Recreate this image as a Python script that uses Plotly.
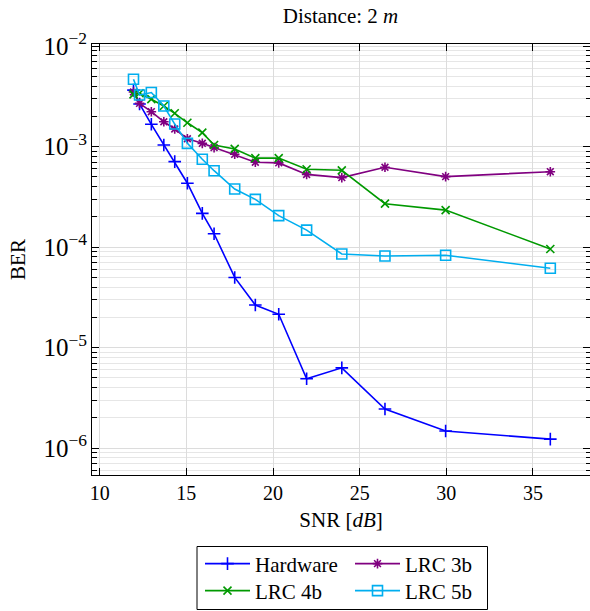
import plotly.graph_objects as go

snr = [11.95, 12.3, 12.98, 13.7, 14.33, 15.06, 15.92, 16.6, 17.79, 18.98,
       20.33, 21.94, 23.97, 26.46, 29.96, 36.0]

ber_hardware = [3.66e-3, 2.66e-3, 1.67e-3, 1.04e-3, 7.1e-4, 4.33e-4, 2.17e-4,
                1.36e-4, 5.0e-5, 2.66e-5, 2.15e-5, 4.9e-6, 6.3e-6, 2.45e-6,
                1.48e-6, 1.23e-6]
ber_lrc3b = [3.5e-3, 2.7e-3, 2.23e-3, 1.77e-3, 1.5e-3, 1.2e-3, 1.08e-3,
             9.8e-4, 8.4e-4, 7.0e-4, 6.9e-4, 5.3e-4, 4.92e-4, 6.24e-4,
             5.04e-4, 5.64e-4]
ber_lrc4b = [3.32e-3, 3.4e-3, 2.97e-3, 2.54e-3, 2.15e-3, 1.73e-3, 1.38e-3,
             1.04e-3, 9.5e-4, 7.7e-4, 7.7e-4, 5.96e-4, 5.82e-4, 2.71e-4,
             2.34e-4, 9.6e-5]
ber_lrc5b = [4.69e-3, 3.27e-3, 3.46e-3, 2.54e-3, 1.68e-3, 1.08e-3, 7.5e-4,
             5.77e-4, 3.79e-4, 2.99e-4, 2.06e-4, 1.48e-4, 8.55e-5, 8.17e-5,
             8.3e-5, 6.17e-5]

series_names = ["Hardware", "LRC 3b", "LRC 4b", "LRC 5b"]
x_ticks = [10, 15, 20, 25, 30, 35]

FONT = "Liberation Serif, Times New Roman, Times, serif"
W, H = 590, 611
L, R, T, B = 92, 0, 44, 136
PW, PH = W - L - R, H - T - B


def px_x(p):
    return (p - L) / PW


def px_y(p):
    return (H - B - p) / PH


styles = [
    dict(color="#0000ff", symbol="cross-thin-open", size=9, legend="legend"),
    dict(color="#800080", symbol="asterisk-open", size=8, legend="legend"),
    dict(color="#009900", symbol="x-thin-open", size=8, legend="legend2"),
    dict(color="#00aeef", symbol="square-open", size=10, legend="legend2"),
]

fig = go.Figure()
for name, ys, st in zip(series_names,
                        [ber_hardware, ber_lrc3b, ber_lrc4b, ber_lrc5b],
                        styles):
    fig.add_trace(go.Scatter(
        x=snr, y=ys, name=name, mode="lines+markers",
        line=dict(color=st["color"], width=1.6),
        marker=dict(symbol=st["symbol"], size=st["size"], color=st["color"],
                    line=dict(color=st["color"], width=1.6)),
        legend=st["legend"],
    ))

grid_major = "#dcdcdc"
grid_minor = "#e6e6e6"

legend_common = dict(
    orientation="h", x=px_x(200), xanchor="left",
    yanchor="middle", yref="paper",
    entrywidth=90, entrywidthmode="pixels", itemwidth=45,
    bgcolor="rgba(0,0,0,0)", borderwidth=0,
    font=dict(family=FONT, size=21),
)

fig.update_layout(
    width=W, height=H,
    margin=dict(l=L, r=R, t=T, b=B, autoexpand=False),
    paper_bgcolor="white", plot_bgcolor="white",
    font=dict(family=FONT, size=21, color="black"),
    title=dict(text="Distance: 2 <i>m</i>", x=px_x((L + 589) / 2),
               xref="paper", xanchor="center",
               y=1 - 16 / H, yref="container", yanchor="middle",
               font=dict(family=FONT, size=21)),
    xaxis=dict(
        range=[9.556, 38.29], tickvals=x_ticks,
        ticktext=[str(v) for v in x_ticks],
        showgrid=True, gridcolor=grid_major, gridwidth=1,
        zeroline=False,
        showline=True, linecolor="black", linewidth=1, mirror="allticks",
        ticks="inside", ticklen=7, tickcolor="black", tickwidth=1,
        tickfont=dict(family=FONT, size=20),
        title=dict(text="SNR [<i>dB</i>]", standoff=9,
                   font=dict(family=FONT, size=21)),
    ),
    yaxis=dict(
        type="log", range=[-6.267, -1.978], dtick=1,
        exponentformat="power",
        showgrid=True, gridcolor=grid_major, gridwidth=1,
        zeroline=False,
        showline=True, linecolor="black", linewidth=1, mirror="allticks",
        ticks="inside", ticklen=7, tickcolor="black", tickwidth=1,
        tickfont=dict(family=FONT, size=20),
        minor=dict(dtick="D1", ticks="inside", ticklen=4.5,
                   tickcolor="black", tickwidth=1,
                   showgrid=True, gridcolor=grid_minor, gridwidth=1),
        title=dict(text="BER", standoff=12,
                   font=dict(family=FONT, size=21)),
    ),
    legend=dict(legend_common, y=px_y(564)),
    legend2=dict(legend_common, y=px_y(591)),
    shapes=[dict(type="rect", xref="paper", yref="paper",
                 x0=px_x(197), x1=px_x(487.5), y0=px_y(609.5), y1=px_y(546.5),
                 line=dict(color="black", width=1), fillcolor="rgba(0,0,0,0)")],
)

fig.write_html("out.html")
